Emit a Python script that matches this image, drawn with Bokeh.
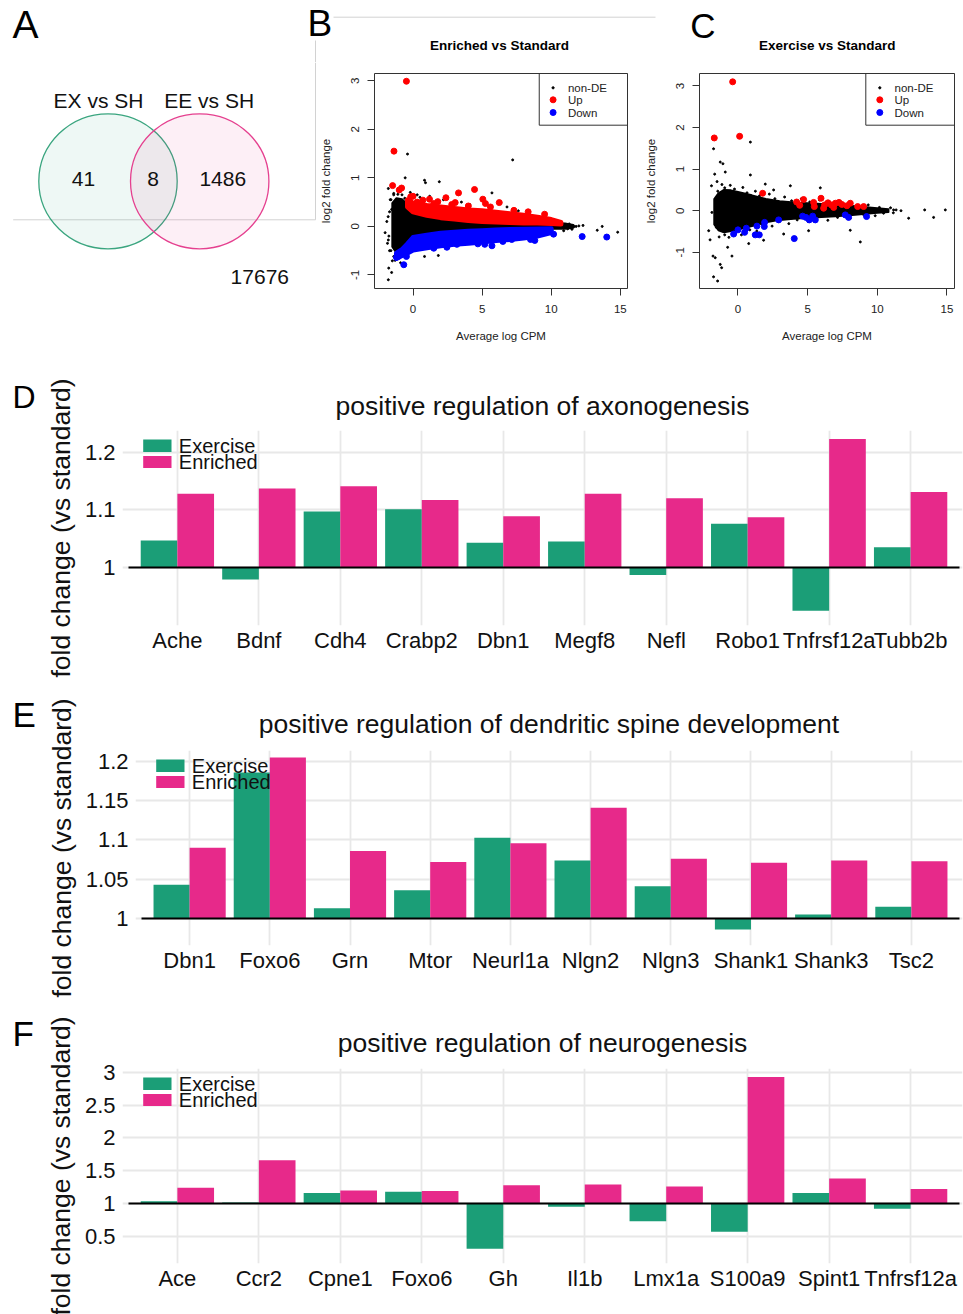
import numpy as np
from bokeh.plotting import figure
from bokeh.layouts import column, row
from bokeh.models import Range1d, FixedTicker, CustomJSTickFormatter
from bokeh.embed import file_html
from bokeh.resources import INLINE
from bokeh.core.properties import value

FONT = "Liberation Sans"
GREEN = "#1b9e77"
PINK = "#e7298a"
GRID = "#e8e8e8"
PANEL_EDGE = "#d2d2d2"
INK = "#111111"

# ---------------------------------------------------------------- Venn counts
venn_sets = ["EX vs SH", "EE vs SH"]
venn_counts = [41, 8, 1486]          # EX only, both, EE only
venn_outside = 17676

# ---------------------------------------------------------------- MA plots
ma_titles = ["Enriched vs Standard", "Exercise vs Standard"]
ma_legend = ["non-DE", "Up", "Down"]

# Enriched vs Standard: envelopes of the dense bands (x = average log CPM)
enr_ns_x = [-1.5, -1.2, -0.8, -0.4, 0.0, 1.0, 2.0, 3.0, 4.0, 5.0, 6.0, 7.0, 8.0, 9.0, 10.0, 11.0, 11.6]
enr_ns_hi = [0.48, 0.58, 0.56, 0.45, 0.32, 0.25, 0.20, 0.17, 0.14, 0.12, 0.11, 0.10, 0.09, 0.08, 0.07, 0.06, 0.03]
enr_ns_lo = [-0.42, -0.55, -0.50, -0.38, -0.25, -0.20, -0.16, -0.13, -0.11, -0.10, -0.08, -0.07, -0.06, -0.05, -0.05, -0.05, -0.03]
enr_up_x = [-0.4, 0.0, 1.0, 2.0, 3.0, 4.0, 5.0, 6.0, 7.0, 8.0, 9.0, 10.0, 10.7]
enr_up_hi = [0.55, 0.48, 0.43, 0.40, 0.37, 0.34, 0.32, 0.29, 0.26, 0.23, 0.19, 0.14, 0.08]
enr_up_lo = [0.40, 0.30, 0.23, 0.18, 0.15, 0.12, 0.10, 0.09, 0.08, 0.07, 0.07, 0.06, 0.05]
enr_dn_x = [-1.2, -0.8, -0.4, 0.0, 1.0, 2.0, 3.0, 4.0, 5.0, 6.0, 7.0, 8.0, 9.0, 10.0]
enr_dn_hi = [-0.55, -0.48, -0.36, -0.23, -0.18, -0.14, -0.12, -0.10, -0.09, -0.075, -0.065, -0.06, -0.055, -0.05]
enr_dn_lo = [-0.66, -0.60, -0.55, -0.49, -0.44, -0.40, -0.37, -0.35, -0.32, -0.29, -0.27, -0.24, -0.20, -0.13]
# Enriched vs Standard: individual genes outside the dense bands
enr_up_pts_x = [-0.48, -1.38, -1.48, -1.0, -0.83, -0.17, 0.0, 0.71, 1.19, 1.79, 2.38, 3.05, 3.29, 4.45, 5.05, 5.24, 6.24, 8.33, 9.52, -0.3, 0.3, 1.5, 2.8, 4.0, 5.6, 7.3]
enr_up_pts_y = [2.99, 1.55, 0.84, 0.75, 0.79, 0.61, 0.62, 0.54, 0.56, 0.51, 0.59, 0.49, 0.69, 0.76, 0.56, 0.47, 0.49, 0.30, 0.25, 0.45, 0.50, 0.47, 0.45, 0.42, 0.40, 0.33]
enr_dn_pts_x = [-0.67, -1.07, -0.48, 2.45, 3.17, 4.69, 5.19, 5.71, 7.14, 8.81, 10.17, 12.24, 14.02, -1.2, 1.5, 6.5, 8.5]
enr_dn_pts_y = [-0.79, -0.62, -0.62, -0.43, -0.37, -0.36, -0.37, -0.40, -0.27, -0.29, -0.16, -0.21, -0.22, -0.64, -0.45, -0.31, -0.27]
enr_ns_pts_x = [-0.40, 7.21, -0.57, 0.83, 0.90, 1.90, -1.79, 5.71, -2.02, -1.79, -1.50, -1.76, -1.55, -1.79, 0.83, 1.83,
                11.67, 13.33, 13.69, 14.81, 7.62, 10.6, 10.95, 11.19, -1.7, -1.9, -1.6, -1.4, -1.65, -1.3, 0.3, 0.5,
                2.2, -0.9, 12.0, -1.6, -1.4, -1.1, -0.8, -0.6, -1.7, -1.4, -1.1, -0.9, -1.8, -1.75, 11.3, 11.8,
                12.3, 10.9, 11.5, -1.55, -1.85, -0.2, 1.2, 3.5, 4.1, 6.8]
enr_ns_pts_y = [1.49, 1.37, 1.00, 0.95, 0.90, 0.92, 0.78, 0.69, -0.13, -0.28, -0.71, -0.86, -0.95, -1.10, -0.62, -0.60,
                0.00, -0.08, 0.00, -0.12, 0.32, -0.02, 0.02, -0.05, 0.30, 0.10, -0.50, 0.65, 0.55, -0.70, 0.65, 0.60,
                0.55, -0.75, 0.01, 0.55, 0.68, 0.66, 0.65, 0.58, -0.50, -0.62, -0.62, -0.58, 0.20, -0.20, 0.05, 0.00,
                0.02, -0.09, -0.06, 0.35, -0.35, 0.70, 0.62, 0.50, 0.45, 0.40]

# Exercise vs Standard
exe_ns_x = [-1.7, -1.4, -1.0, -0.5, 0.0, 1.0, 2.0, 3.0, 4.0, 5.0, 6.0, 7.0, 8.0, 9.0, 10.0, 10.8]
exe_ns_hi = [0.28, 0.42, 0.50, 0.49, 0.45, 0.37, 0.28, 0.23, 0.20, 0.18, 0.16, 0.14, 0.12, 0.09, 0.06, 0.035]
exe_ns_lo = [-0.33, -0.47, -0.52, -0.49, -0.45, -0.37, -0.28, -0.22, -0.19, -0.17, -0.15, -0.13, -0.11, -0.08, -0.05, -0.03]
exe_up_pts_x = [-0.38, -1.70, 0.12, 1.77, 4.21, 4.43, 4.71, 5.43, 5.48, 5.96, 6.22, 6.46, 6.70, 6.99, 7.25, 7.46, 7.82, 8.06, 8.59, 9.02, 6.15, 6.87]
exe_up_pts_y = [3.10, 1.75, 1.79, 0.42, 0.21, 0.13, 0.27, 0.20, 0.10, 0.30, 0.14, 0.19, 0.14, 0.18, 0.20, 0.15, 0.12, 0.18, 0.10, 0.10, 0.06, 0.08]
exe_dn_pts_x = [-0.31, 0.00, 0.48, 0.60, 1.36, 1.24, 1.53, 1.91, 1.89, 2.92, 4.04, 4.64, 4.88, 5.12, 5.36, 5.55, 7.70, 7.94, 9.23]
exe_dn_pts_y = [-0.56, -0.46, -0.52, -0.42, -0.37, -0.58, -0.58, -0.28, -0.38, -0.22, -0.67, -0.13, -0.16, -0.22, -0.13, -0.22, -0.10, -0.16, -0.14]
exe_ns_pts_x = [-1.75, -1.27, -1.08, -1.67, -0.91, 0.89, 0.89, 1.96, 2.56, 3.76, 5.91, -1.87, -2.10, -1.79, -1.63, -1.75,
                -1.46, -1.17, -1.27, -0.74, -0.43, 0.77, 1.84, 3.28, 5.07, 8.06, 8.78, 11.70, 12.25, 13.40, 14.04, 14.88,
                11.17, -1.9, -2.0, -1.5,
                -1.45, -1.15, -0.95, -0.55, -0.25, 0.35, 0.65, 1.25, 1.55, 2.25, 2.65, 3.35, 3.85, 4.55, 5.15, 5.85, 6.45, 7.35, 8.15,
                9.35, 10.15, 10.95, 11.35,
                -1.55, -1.35, -0.95, -0.65, -0.15, 0.25, 0.85, 1.35, 1.75, 2.45, 2.95, 3.65, 4.25, 5.05, 5.65, 6.45, 7.15, 8.05, 9.05,
                9.85, 10.45, 11.15]
exe_ns_pts_y = [1.49, 1.17, 1.13, 0.88, 0.93, 1.65, 0.86, 0.64, 0.50, 0.60, 0.55, -0.04, -0.48, -1.09, -1.13, -1.59,
                -1.69, -1.37, -1.29, -0.88, -1.09, -0.79, -0.71, -0.56, -0.48, -0.47, -0.75, 0.00, -0.18, 0.02, -0.16, 0.02,
                0.02, 0.60, -0.70, 0.70,
                0.47, 0.63, 0.55, 0.61, 0.52, 0.56, 0.43, 0.47, 0.36, 0.40, 0.29, 0.33, 0.24, 0.29, 0.21, 0.26, 0.19, 0.21, 0.15,
                0.14, 0.08, 0.07, 0.02,
                -0.40, -0.63, -0.58, -0.64, -0.53, -0.58, -0.46, -0.49, -0.33, -0.37, -0.26, -0.31, -0.22, -0.26, -0.19, -0.23, -0.16, -0.18, -0.11,
                -0.12, -0.06, -0.05]

# ---------------------------------------------------------------- GO term bar charts
series_names = ["Exercise", "Enriched"]

axon_title = "positive regulation of axonogenesis"
axon_genes = ["Ache", "Bdnf", "Cdh4", "Crabp2", "Dbn1", "Megf8", "Nefl", "Robo1", "Tnfrsf12a", "Tubb2b"]
axon_exercise = [1.047, 0.979, 1.097, 1.101, 1.043, 1.045, 0.987, 1.076, 0.925, 1.035]
axon_enriched = [1.128, 1.137, 1.141, 1.117, 1.089, 1.128, 1.120, 1.087, 1.223, 1.131]
axon_ticks = [1.0, 1.1, 1.2]

spine_title = "positive regulation of dendritic spine development"
spine_genes = ["Dbn1", "Foxo6", "Grn", "Mtor", "Neurl1a", "Nlgn2", "Nlgn3", "Shank1", "Shank3", "Tsc2"]
spine_exercise = [1.043, 1.186, 1.013, 1.036, 1.103, 1.074, 1.041, 0.986, 1.005, 1.015]
spine_enriched = [1.090, 1.205, 1.086, 1.072, 1.096, 1.141, 1.076, 1.071, 1.074, 1.073]
spine_ticks = [1.0, 1.05, 1.1, 1.15, 1.2]

neuro_title = "positive regulation of neurogenesis"
neuro_genes = ["Ace", "Ccr2", "Cpne1", "Foxo6", "Gh", "Il1b", "Lmx1a", "S100a9", "Spint1", "Tnfrsf12a"]
neuro_exercise = [1.035, 1.015, 1.16, 1.18, 0.31, 0.95, 0.73, 0.57, 1.16, 0.92]
neuro_enriched = [1.24, 1.66, 1.20, 1.19, 1.28, 1.29, 1.26, 2.93, 1.38, 1.22]
neuro_ticks = [0.5, 1.0, 1.5, 2.0, 2.5, 3.0]

panel_letters = ["A", "B", "C", "D", "E", "F"]


def lin(p, a, b, lo, hi):
    """Map pixel position p (a -> lo, b -> hi) onto a data interval."""
    return lo + (p - a) / (b - a) * (hi - lo)


def unaligned(p):
    # keep every frame where its own borders put it inside row/column layouts
    if "frame_align" in p.properties():
        p.frame_align = False
    return p


def pixel_canvas(W, H, x0, y0):
    """A bare figure whose data units are page pixels (y grows downwards)."""
    p = figure(width=W, height=H, x_range=Range1d(x0, x0 + W), y_range=Range1d(y0 + H, y0),
               x_axis_location=None, y_axis_location=None, toolbar_location=None,
               output_backend="svg", min_border=0)
    p.grid.visible = False
    p.outline_line_color = None
    return unaligned(p)


def put_text(p, x, y, text, size, align="left", style="normal", color=INK):
    # y is the vertical middle of the text line
    p.text(x=x, y=y, text=text, text_font=value(FONT), text_font_size=size,
           text_font_style=style, text_align=align, text_baseline="middle", text_color=color)


# ---------------------------------------------------------------- header strip (letters A-C, MA titles)
header = pixel_canvas(963, 62, 0, 0)
header.line(x=[333, 655], y=[16.7, 16.7], line_color=PANEL_EDGE, line_width=1)
header.line(x=[315, 315], y=[40, 62], line_color=PANEL_EDGE, line_width=1)
put_text(header, [12], [24.2], [panel_letters[0]], "39px", color="black")
put_text(header, [307], [23.3], [panel_letters[1]], "37px", color="black")
put_text(header, [689.7], [25.3], [panel_letters[2]], "35px", color="black")
put_text(header, [499, 826.7], [45, 45], ma_titles, "13.5px", align="center", style="bold", color="black")

# ---------------------------------------------------------------- panel A: Venn diagram
venn = pixel_canvas(316, 303, 0, 62)
venn.line(x=[12.7, 315, 315], y=[219.3, 219.3, 62], line_color=PANEL_EDGE, line_width=1)
venn.ellipse(x=[107.5, 199.2], y=[180.8, 180.8], width=138.4, height=135,
             fill_color=[GREEN, PINK], fill_alpha=0.075,
             line_color=["#3aa57f", "#e5408f"], line_width=1.3)
put_text(venn, [98, 208.7], [100, 100], venn_sets, "21px", align="center")
put_text(venn, [83, 152.7, 222.3], [178, 178, 178], [str(c) for c in venn_counts], "21px", align="center")
put_text(venn, [259.3], [276], [str(venn_outside)], "21px", align="center")


# ---------------------------------------------------------------- panels B, C: MA plots
def ma_panel(px0, W, fl, fr, xr, yr, ns_env, ns_pts, up_pts, dn_pts,
             up_env=None, dn_env=None, legend_left=0, dot_x=0, text_x=0):
    H, py0, ft, fb = 303, 62, 11, 226
    p = figure(width=W, height=H, x_range=Range1d(*xr), y_range=Range1d(*yr),
               toolbar_location=None, output_backend="svg",
               min_border_left=fl, min_border_right=W - fr,
               min_border_top=ft, min_border_bottom=H - fb)
    unaligned(p)
    X = lambda px: lin(px - px0, fl, fr, *xr)
    Y = lambda py: lin(py - py0, fb, ft, *yr)
    p.grid.visible = False
    p.outline_line_color = "#333333"
    p.outline_line_width = 1
    for ax in (p.xaxis[0], p.yaxis[0]):
        ax.axis_line_color = None
        ax.major_tick_out = 7
        ax.major_tick_in = 0
        ax.major_tick_line_color = "#333333"
        ax.minor_tick_line_color = None
        ax.major_label_text_font = FONT
        ax.major_label_text_font_size = "11.5px"
        ax.major_label_text_color = "#222222"
        ax.axis_label_text_font = FONT
        ax.axis_label_text_font_size = "11.5px"
        ax.axis_label_text_font_style = "normal"
        ax.axis_label_text_color = "#222222"
        ax.formatter = CustomJSTickFormatter(code="return String(tick);")
    p.xaxis.ticker = FixedTicker(ticks=[0, 5, 10, 15])
    p.yaxis.ticker = FixedTicker(ticks=[-1, 0, 1, 2, 3])
    p.yaxis.major_label_orientation = "vertical"
    p.xaxis.axis_label = "Average log CPM"
    p.yaxis.axis_label = "log2 fold change"
    p.xaxis.major_label_standoff = 9
    p.xaxis.axis_label_standoff = 14
    p.yaxis.major_label_standoff = 8
    p.yaxis.axis_label_standoff = 17

    # dense non-DE cloud, then DE genes on top
    nx, nhi, nlo = ns_env
    p.patch(x=list(nx) + list(nx)[::-1], y=list(nhi) + list(nlo)[::-1],
            fill_color="black", line_color="black", line_width=2, line_join="round")
    p.scatter(x=ns_pts[0], y=ns_pts[1], size=2.0, color="black")
    for env, col in ((up_env, "red"), (dn_env, "blue")):
        if env is not None:
            ex, ehi, elo = env
            p.patch(x=list(ex) + list(ex)[::-1], y=list(ehi) + list(elo)[::-1],
                    fill_color=col, line_color=col, line_width=5, line_join="round")
    p.scatter(x=up_pts[0], y=up_pts[1], size=6, color="red")
    p.scatter(x=dn_pts[0], y=dn_pts[1], size=6, color="blue")

    # legend box in the top-right corner
    p.quad(left=X(legend_left), right=xr[1], top=yr[1], bottom=Y(124.7),
           fill_color=None, line_color="#333333", line_width=1)
    rows = [Y(87.3), Y(99.3), Y(112)]
    p.scatter(x=[X(dot_x)] * 3, y=rows, size=[2.2, 6, 6], color=["black", "red", "blue"])
    p.text(x=[X(text_x)] * 3, y=rows, text=ma_legend, text_font=value(FONT),
           text_font_size="11.5px", text_baseline="middle", text_align="left",
           text_color="#222222")
    return p


ma_enr = ma_panel(316, W=324, fl=55, fr=311, xr=(-2.79, 15.52), yr=(-1.28, 3.15),
                  ns_env=(enr_ns_x, enr_ns_hi, enr_ns_lo),
                  ns_pts=(enr_ns_pts_x, enr_ns_pts_y),
                  up_pts=(enr_up_pts_x, enr_up_pts_y),
                  dn_pts=(enr_dn_pts_x, enr_dn_pts_y),
                  up_env=(enr_up_x, enr_up_hi, enr_up_lo),
                  dn_env=(enr_dn_x, enr_dn_hi, enr_dn_lo),
                  legend_left=537.7, dot_x=551.7, text_x=566.7)

ma_exe = ma_panel(640, W=323, fl=59, fr=314, xr=(-2.76, 15.54), yr=(-1.87, 3.30),
                  ns_env=(exe_ns_x, exe_ns_hi, exe_ns_lo),
                  ns_pts=(exe_ns_pts_x, exe_ns_pts_y),
                  up_pts=(exe_up_pts_x, exe_up_pts_y),
                  dn_pts=(exe_dn_pts_x, exe_dn_pts_y),
                  legend_left=865.3, dot_x=879.3, text_x=894)


# ---------------------------------------------------------------- panels D, E, F: bar charts
STRIP = 40          # width of the strip holding the letters D-F
DATA_RIGHT = 959    # page x where the category axis ends
FRAME_RIGHT = 962   # grid lines run a little past it


def bar_panel(title, title_standoff, genes, ex, en, ticks, yr, H, grid_left, data_left, ft):
    W = 963 - STRIP
    fl, fr = grid_left - STRIP, FRAME_RIGHT - STRIP
    fb = ft + 195
    n = len(genes)
    # categories span [0.4, n + 0.6] between data_left and DATA_RIGHT
    cat = (0.4, n + 0.6)
    xr = (lin(grid_left, data_left, DATA_RIGHT, *cat), lin(FRAME_RIGHT, data_left, DATA_RIGHT, *cat))
    p = figure(width=W, height=H, x_range=Range1d(*xr), y_range=Range1d(*yr),
               toolbar_location=None, output_backend="svg",
               min_border_left=fl, min_border_right=W - fr,
               min_border_top=ft, min_border_bottom=H - fb)
    unaligned(p)
    X = lambda page_x: lin(page_x, data_left, DATA_RIGHT, *cat)
    Y = lambda py: lin(py, fb, ft, *yr)
    p.outline_line_color = None

    p.title.text = title
    p.title.align = "center"
    p.title.text_font = FONT
    p.title.text_font_size = "26.5px"
    p.title.text_font_style = "normal"
    p.title.text_color = INK
    p.title.standoff = title_standoff

    pos = np.arange(1, n + 1)
    xt = FixedTicker(ticks=[int(i) for i in pos])
    yt = FixedTicker(ticks=ticks)
    p.xaxis.ticker = xt
    p.yaxis.ticker = yt
    p.xgrid.ticker = xt
    p.ygrid.ticker = yt
    p.grid.grid_line_color = GRID
    p.grid.grid_line_width = 1.8
    p.xaxis.major_label_overrides = {int(i): g for i, g in zip(pos, genes)}
    p.yaxis.formatter = CustomJSTickFormatter(
        code=r"return tick.toFixed(2).replace(/\.?0+$/, '');")
    for ax in (p.xaxis[0], p.yaxis[0]):
        ax.axis_line_color = None
        ax.major_tick_line_color = None
        ax.major_tick_out = 0
        ax.major_tick_in = 0
        ax.minor_tick_line_color = None
        ax.major_label_text_font = FONT
        ax.major_label_text_font_size = "22px"
        ax.major_label_text_color = INK
    p.xaxis.major_label_standoff = 2
    p.yaxis.major_label_standoff = 13 - (data_left - grid_left)
    p.yaxis.axis_label = "fold change (vs standard)"
    p.yaxis.axis_label_text_font = FONT
    p.yaxis.axis_label_text_font_size = "26.5px"
    p.yaxis.axis_label_text_font_style = "normal"
    p.yaxis.axis_label_text_color = INK
    p.yaxis.axis_label_standoff = 6

    p.vbar(x=pos - 0.225, top=ex, bottom=1.0, width=0.45, fill_color=GREEN, line_color=None)
    p.vbar(x=pos + 0.225, top=en, bottom=1.0, width=0.45, fill_color=PINK, line_color=None)
    # reference line at fold change 1 across the category axis
    p.segment(x0=[cat[0]], x1=[cat[1]], y0=[1.0], y1=[1.0], line_color="black", line_width=2)

    # legend keys in the top-left corner of the panel
    p.quad(left=[X(data_left + 14.7)] * 2, right=[X(data_left + 43)] * 2,
           top=[Y(ft + 9), Y(ft + 25.5)], bottom=[Y(ft + 21.5), Y(ft + 37.5)],
           fill_color=[GREEN, PINK], line_color=None)
    p.text(x=[X(data_left + 50.3)] * 2, y=[Y(ft + 15.5), Y(ft + 31.5)], text=series_names,
           text_font=value(FONT), text_font_size="20px", text_align="left",
           text_baseline="middle", text_color=INK)
    return p


bars_axon = bar_panel(axon_title, 20, axon_genes, axon_exercise, axon_enriched,
                      axon_ticks, (0.8994, 1.2376), H=325, grid_left=122, data_left=128, ft=65)
bars_spine = bar_panel(spine_title, 23, spine_genes, spine_exercise, spine_enriched,
                       spine_ticks, (0.9656, 1.214), H=320, grid_left=135, data_left=141, ft=60)
bars_neuro = bar_panel(neuro_title, 21, neuro_genes, neuro_exercise, neuro_enriched,
                       neuro_ticks, (0.084, 3.061), H=304, grid_left=122, data_left=128, ft=58)

# letters D-F sit in a narrow strip left of the bar charts
letters = pixel_canvas(STRIP, 949, 0, 365)
put_text(letters, [12], [396], [panel_letters[3]], "32px", color="black")
put_text(letters, [12], [714.2], [panel_letters[4]], "35px", color="black")
put_text(letters, [12], [1032.5], [panel_letters[5]], "35px", color="black")

layout = column(header,
                row(venn, ma_enr, ma_exe),
                row(letters, column(bars_axon, bars_spine, bars_neuro)))
open("out.html", "w").write(file_html(layout, INLINE))
